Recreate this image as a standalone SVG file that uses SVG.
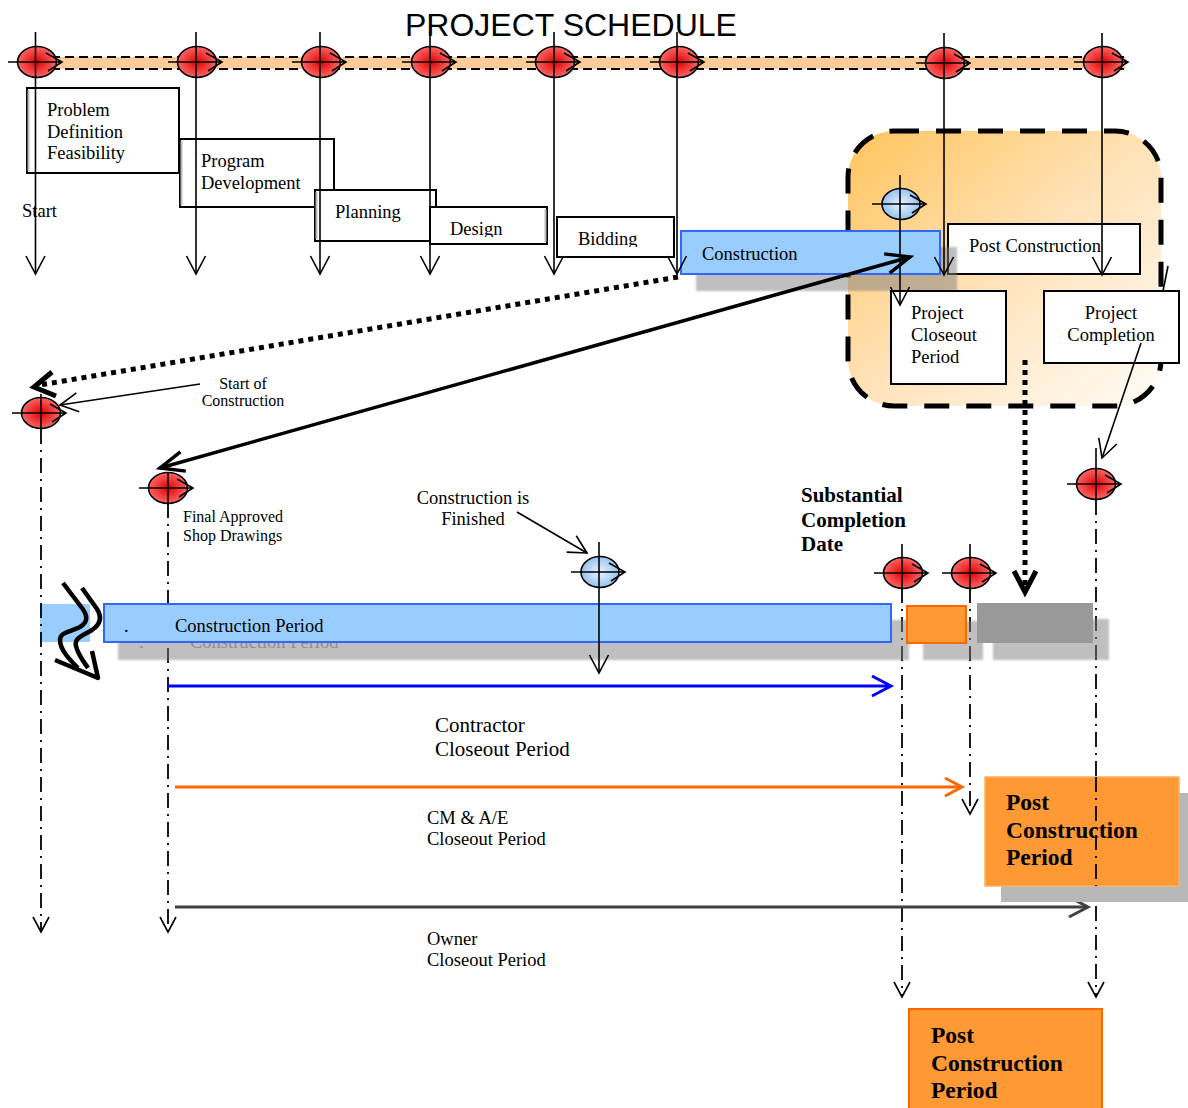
<svg xmlns="http://www.w3.org/2000/svg" width="1188" height="1108" viewBox="0 0 1188 1108">
<defs>
<style>
.serif{font-family:"Liberation Serif","Times New Roman",serif;fill:#000}
.sans{font-family:"Liberation Sans",Arial,sans-serif;fill:#000}
.f18{font-size:18.5px}
.f16{font-size:16px}
.f21{font-size:21px}
.b21{font-size:21px;font-weight:bold}
.b23{font-size:23.5px;font-weight:bold}
.box{fill:#fff;stroke:#000;stroke-width:2}
.ln{stroke:#000;stroke-width:1.6;fill:none}
.dd{stroke:#000;stroke-width:1.8;fill:none;stroke-dasharray:15 6 2 6}
.bandDash{stroke:#000;stroke-width:2;stroke-dasharray:9 5}
.dots{stroke:#000;stroke-width:5;stroke-dasharray:5 5;fill:none}
.thick{stroke:#000;stroke-width:3.5;fill:none}
.mk{stroke:#000;stroke-width:1.6;fill:none}
.shadow{fill:#808080;opacity:0.5}
.ghost{fill:#8f8f8f}
.wave{fill:none;stroke:#000;stroke-width:4.5;stroke-linejoin:round}
</style>
<radialGradient id="gRed" cx="0.5" cy="0.5" r="0.55">
<stop offset="0" stop-color="#e00000"/>
<stop offset="1" stop-color="#ff7070"/>
</radialGradient>
<radialGradient id="gBlue" cx="0.5" cy="0.5" r="0.55">
<stop offset="0" stop-color="#eaf4ff"/>
<stop offset="1" stop-color="#8dbdee"/>
</radialGradient>
<linearGradient id="gRegion" x1="0" y1="0" x2="1" y2="1">
<stop offset="0" stop-color="#ffc45c"/>
<stop offset="0.5" stop-color="#ffe2b8"/>
<stop offset="1" stop-color="#fffcf8"/>
</linearGradient>
<filter id="blur" x="-5%" y="-20%" width="110%" height="140%">
<feGaussianBlur stdDeviation="1.2"/>
</filter>
<g id="mkRed">
<ellipse rx="19.5" ry="15.5" fill="url(#gRed)" stroke="#000" stroke-width="1.6"/>
<path class="mk" d="M-29,0 H25 M9,-9 L25,0 L11,9"/>
</g>
<g id="mkBlue">
<ellipse rx="19" ry="15.5" fill="url(#gBlue)" stroke="#000" stroke-width="1.6"/>
<path class="mk" d="M-29,0 H25 M9,-9 L25,0 L11,9"/>
</g>
<marker id="mA" markerUnits="userSpaceOnUse" viewBox="0 0 20 20" refX="19" refY="10" markerWidth="20" markerHeight="20" orient="auto" overflow="visible">
<path d="M1,0.5 L19,10 L1,19.5" fill="none" stroke="#000" stroke-width="1.6"/>
</marker>
<marker id="mD" markerUnits="userSpaceOnUse" viewBox="0 0 16 16" refX="15" refY="8" markerWidth="16" markerHeight="16" orient="auto" overflow="visible">
<path d="M0,0 L15,8 L0,16" fill="none" stroke="#000" stroke-width="1.6"/>
</marker>
<marker id="mT" markerUnits="userSpaceOnUse" viewBox="0 0 26 22" refX="25" refY="11" markerWidth="26" markerHeight="22" orient="auto-start-reverse" overflow="visible">
<path d="M1,1 L25,11 L1,21" fill="none" stroke="#000" stroke-width="3.5"/>
</marker>
<marker id="mBlue" markerUnits="userSpaceOnUse" viewBox="0 0 22 22" refX="20" refY="11" markerWidth="22" markerHeight="22" orient="auto" overflow="visible">
<path d="M1,1 L20,11 L1,21" fill="none" stroke="#0000ff" stroke-width="3"/>
</marker>
<marker id="mOr" markerUnits="userSpaceOnUse" viewBox="0 0 20 20" refX="18" refY="10" markerWidth="20" markerHeight="20" orient="auto" overflow="visible">
<path d="M1,1 L18,10 L1,19" fill="none" stroke="#ff6600" stroke-width="3"/>
</marker>
<marker id="mDk" markerUnits="userSpaceOnUse" viewBox="0 0 22 22" refX="20" refY="11" markerWidth="22" markerHeight="22" orient="auto" overflow="visible">
<path d="M1,1 L20,11 L1,21" fill="none" stroke="#404040" stroke-width="3"/>
</marker>
<clipPath id="clipDesign"><rect x="430" y="200" width="120" height="37"/></clipPath>
<clipPath id="clipBidding"><rect x="557" y="210" width="120" height="37"/></clipPath>
<clipPath id="clipGhost"><rect x="118" y="643" width="800" height="20"/></clipPath>
</defs>

<rect x="0" y="0" width="1188" height="1108" fill="#fff"/>

<g id="title">
<text class="sans" x="405" y="36" font-size="32">PROJECT SCHEDULE</text>
</g>

<g id="timeline-band">
<rect x="37" y="57" width="1088" height="12" fill="#ffcc99"/>
<line class="bandDash" x1="37" y1="57" x2="1125" y2="57"/>
<line class="bandDash" x1="37" y1="69" x2="1125" y2="69"/>
</g>

<g id="post-construction-region">
<rect x="848" y="131" width="313" height="275" rx="46" fill="url(#gRegion)" stroke="#000" stroke-width="5" stroke-dasharray="25 17"/>
<line x1="1168" y1="266" x2="1163" y2="291" class="ln" stroke-width="2"/>
</g>

<g id="box-problem">
<rect class="box" x="27" y="88" width="152" height="85"/>
<line x1="28.5" y1="90" x2="28.5" y2="171" stroke="#bbb" stroke-width="2"/>
<text class="serif f18" x="47" y="116">Problem</text>
<text class="serif f18" x="47" y="138">Definition</text>
<text class="serif f18" x="47" y="159">Feasibility</text>
</g>
<g id="box-program">
<rect class="box" x="180" y="139" width="154" height="68"/>
<line x1="181.5" y1="141" x2="181.5" y2="205" stroke="#bbb" stroke-width="2"/>
<text class="serif f18" x="201" y="167">Program</text>
<text class="serif f18" x="201" y="189">Development</text>
</g>
<g id="box-planning">
<rect class="box" x="315" y="190" width="121" height="51"/>
<line x1="316.5" y1="192" x2="316.5" y2="239" stroke="#bbb" stroke-width="2"/>
<text class="serif f18" x="335" y="218">Planning</text>
</g>
<g id="box-design">
<rect class="box" x="430" y="207" width="117" height="37"/>
<line x1="545.5" y1="209" x2="545.5" y2="242" stroke="#bbb" stroke-width="2"/>
<text class="serif f18" x="450" y="235" clip-path="url(#clipDesign)">Design</text>
</g>
<g id="box-bidding">
<rect class="box" x="557" y="217" width="117" height="40"/>
<text class="serif f18" x="578" y="245" clip-path="url(#clipBidding)">Bidding</text>
</g>
<g id="label-start">
<text class="serif f18" x="22" y="217">Start</text>
</g>

<g id="box-post-construction">
<rect class="box" x="948" y="224" width="192" height="50"/>
<text class="serif f18" x="969" y="252">Post Construction</text>
</g>

<g id="bar-construction">
<rect x="696" y="247" width="261" height="44" class="shadow" filter="url(#blur)"/>
<rect x="681" y="231" width="259" height="43" fill="#99ccff" stroke="#3366ff" stroke-width="2"/>
<text class="serif f18" x="702" y="260">Construction</text>
</g>

<g id="box-project-closeout">
<rect class="box" x="891" y="291" width="115" height="93"/>
<text class="serif f18" x="911" y="319">Project</text>
<text class="serif f18" x="911" y="341">Closeout</text>
<text class="serif f18" x="911" y="363">Period</text>
</g>
<g id="box-project-completion">
<rect class="box" x="1044" y="291" width="135" height="72"/>
<text class="serif f18" x="1111" y="319" text-anchor="middle">Project</text>
<text class="serif f18" x="1111" y="341" text-anchor="middle">Completion</text>
</g>

<g id="top-milestones">
<use href="#mkRed" x="37" y="62"/>
<use href="#mkRed" x="197" y="62"/>
<use href="#mkRed" x="321" y="62"/>
<use href="#mkRed" x="431" y="62"/>
<use href="#mkRed" x="555" y="62"/>
<use href="#mkRed" x="679" y="62"/>
<use href="#mkRed" x="945" y="63"/>
<use href="#mkRed" x="1103" y="62"/>
<use href="#mkBlue" x="901" y="204"/>
</g>

<g id="lower-band">
<rect x="40" y="604" width="50" height="38" fill="#99ccff"/>
</g>

<g id="connectors">
<line class="ln" x1="35.5" y1="32" x2="35.5" y2="274" marker-end="url(#mA)"/>
<line class="ln" x1="196" y1="32" x2="196" y2="274" marker-end="url(#mA)"/>
<line class="ln" x1="320" y1="32" x2="320" y2="274" marker-end="url(#mA)"/>
<line class="ln" x1="430" y1="32" x2="430" y2="274" marker-end="url(#mA)"/>
<line class="ln" x1="554" y1="32" x2="554" y2="274" marker-end="url(#mA)"/>
<line class="ln" x1="677" y1="32" x2="677" y2="274" marker-end="url(#mA)"/>
<line class="ln" x1="944" y1="33" x2="944" y2="275" marker-end="url(#mA)"/>
<line class="ln" x1="1102" y1="33" x2="1102" y2="275" marker-end="url(#mA)"/>
<line class="ln" x1="900" y1="175" x2="900" y2="305" marker-end="url(#mA)"/>
<line class="dots" x1="678" y1="277" x2="40" y2="385"/>
<path d="M52,372 L34,387 L56,396" fill="none" stroke="#000" stroke-width="5"/>
<line class="thick" x1="160" y1="468" x2="910" y2="257" marker-start="url(#mT)" marker-end="url(#mT)"/>
<line class="ln" x1="200" y1="384" x2="60" y2="405" marker-end="url(#mA)"/>
<line class="ln" x1="1141" y1="343" x2="1102" y2="458" marker-end="url(#mA)"/>
<line class="dots" x1="1025" y1="360" x2="1025" y2="586"/>
<path d="M1014,571 L1025,592 L1036,571" fill="none" stroke="#000" stroke-width="5"/>
<line class="ln" x1="517" y1="512" x2="587" y2="553" marker-end="url(#mA)"/>
<line class="ln" x1="41" y1="394" x2="41" y2="429"/>
<line class="dd" x1="41" y1="429" x2="41" y2="932" marker-end="url(#mD)"/>
<line class="ln" x1="168" y1="474" x2="168" y2="503"/>
<line class="dd" x1="168" y1="503" x2="168" y2="932" marker-end="url(#mD)"/>
<line class="ln" x1="902" y1="544" x2="902" y2="588"/>
<line class="dd" x1="902" y1="588" x2="902" y2="997" marker-end="url(#mD)"/>
<line class="ln" x1="970" y1="544" x2="970" y2="588"/>
<line class="dd" x1="970" y1="588" x2="970" y2="814" marker-end="url(#mD)"/>
<line class="ln" x1="1096" y1="448" x2="1096" y2="500"/>
<line class="dd" x1="1096" y1="500" x2="1096" y2="997" marker-end="url(#mD)"/>
<line x1="168" y1="686" x2="891" y2="686" stroke="#0000ff" stroke-width="3" marker-end="url(#mBlue)"/>
<line x1="175" y1="787" x2="962" y2="787" stroke="#ff6600" stroke-width="3" marker-end="url(#mOr)"/>
<line x1="175" y1="907" x2="1088" y2="907" stroke="#404040" stroke-width="3" marker-end="url(#mDk)"/>
</g>

<g id="wavy-arrow">
<path class="wave" d="M63,583 L82,608 C88,616 88,622 80,627 C70,632 60,632 60,640 C60,650 70,660 78,668"/>
<path class="wave" d="M82,588 L97,609 C102,617 101,624 92,630 C82,636 74,638 76,646 C78,655 84,662 88,668"/>
<path class="wave" d="M55,660 L98,678 L92,651"/>
</g>

<g id="bar-construction-period">
<rect x="118" y="620" width="791" height="40" class="shadow" filter="url(#blur)"/>
<g clip-path="url(#clipGhost)">
<text class="serif f18 ghost" x="139" y="648">.</text>
<text class="serif f18 ghost" x="190" y="648">Construction Period</text>
</g>
<rect x="104" y="604" width="787" height="38" fill="#99ccff" stroke="#3366ff" stroke-width="2"/>
<text class="serif f18" x="124" y="632">.</text>
<text class="serif f18" x="175" y="632">Construction Period</text>
</g>
<g id="bar-orange">
<rect x="923" y="621" width="60" height="39" class="shadow" filter="url(#blur)"/>
<rect x="907" y="606" width="59" height="37" fill="#ff9933" stroke="#ff6600" stroke-width="2"/>
</g>
<g id="bar-grey">
<rect x="993" y="619" width="116" height="41" class="shadow" filter="url(#blur)"/>
<rect x="977" y="603" width="116" height="40" fill="#999999"/>
</g>

<g id="lower-milestones">
<use href="#mkRed" x="41" y="413"/>
<use href="#mkRed" x="168" y="488"/>
<use href="#mkRed" x="903" y="573"/>
<use href="#mkRed" x="971" y="573"/>
<use href="#mkRed" x="1096" y="484"/>
<use href="#mkBlue" x="600" y="572"/>
<line class="ln" x1="41" y1="398" x2="41" y2="429"/>
<line class="ln" x1="168" y1="473" x2="168" y2="503"/>
<line class="ln" x1="902" y1="558" x2="902" y2="588"/>
<line class="ln" x1="970" y1="558" x2="970" y2="588"/>
<line class="ln" x1="1096" y1="469" x2="1096" y2="500"/>
<line class="ln" x1="599" y1="542" x2="599" y2="673" marker-end="url(#mA)"/>
</g>

<g id="label-start-of-construction">
<text class="serif f16" x="243" y="389" text-anchor="middle">Start of</text>
<text class="serif f16" x="243" y="406" text-anchor="middle">Construction</text>
</g>
<g id="label-final-approved">
<text class="serif f16" x="183" y="522">Final Approved</text>
<text class="serif f16" x="183" y="541">Shop Drawings</text>
</g>
<g id="label-construction-finished">
<text class="serif f18" x="473" y="504" text-anchor="middle">Construction is</text>
<text class="serif f18" x="473" y="525" text-anchor="middle">Finished</text>
</g>
<g id="label-substantial-completion">
<text class="serif b21" x="801" y="502">Substantial</text>
<text class="serif b21" x="801" y="527">Completion</text>
<text class="serif b21" x="801" y="551">Date</text>
</g>
<g id="label-contractor">
<text class="serif f21" x="435" y="732">Contractor</text>
<text class="serif f21" x="435" y="756">Closeout Period</text>
</g>
<g id="label-cm-ae">
<text class="serif f18" x="427" y="824">CM &amp; A/E</text>
<text class="serif f18" x="427" y="845">Closeout Period</text>
</g>
<g id="label-owner">
<text class="serif f18" x="427" y="945">Owner</text>
<text class="serif f18" x="427" y="966">Closeout Period</text>
</g>

<g id="box-post-construction-period-1">
<rect x="1001" y="793" width="200" height="109" fill="#b8b8b8"/>
<rect x="985" y="777" width="194" height="109" fill="#ff9933" stroke="#ffb060" stroke-width="1.5"/>
<text class="serif b23" x="1006" y="810">Post</text>
<text class="serif b23" x="1006" y="838">Construction</text>
<text class="serif b23" x="1006" y="865">Period</text>
<line class="dd" x1="1096" y1="777" x2="1096" y2="886"/>
</g>
<g id="box-post-construction-period-2">
<rect x="909" y="1009" width="193" height="110" fill="#ff9933" stroke="#ff6600" stroke-width="2"/>
<text class="serif b23" x="931" y="1043">Post</text>
<text class="serif b23" x="931" y="1071">Construction</text>
<text class="serif b23" x="931" y="1098">Period</text>
</g>
</svg>
